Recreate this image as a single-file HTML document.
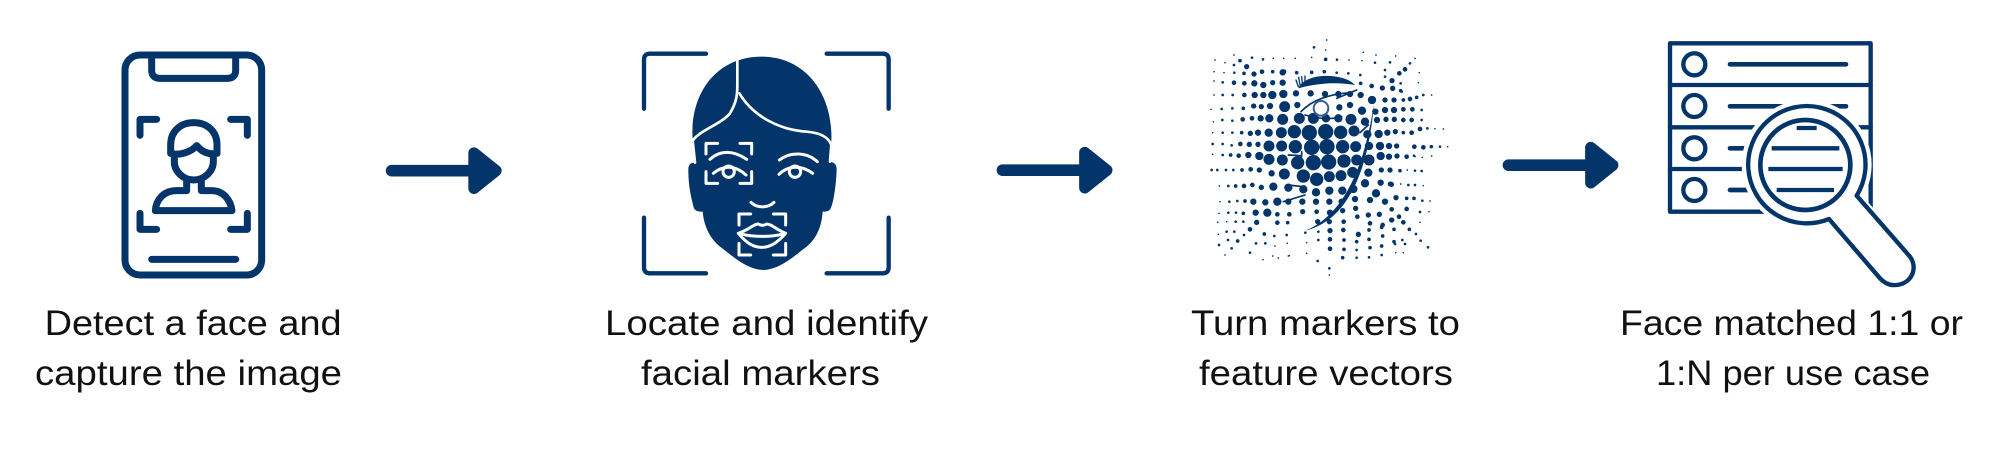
<!DOCTYPE html>
<html>
<head>
<meta charset="utf-8">
<style>
html,body{margin:0;padding:0;background:#fff;width:2000px;height:458px;overflow:hidden}
svg{display:block}
text{font-family:"Liberation Sans",sans-serif;font-size:35px;fill:#111}
</style>
</head>
<body>
<svg width="2000" height="458" viewBox="0 0 2000 458" xmlns="http://www.w3.org/2000/svg">
<rect width="2000" height="458" fill="#fff"/>
<!-- Phone -->
<g transform="translate(80,30) scale(0.33333)" fill="none" stroke="#03356b" stroke-width="21" stroke-linecap="round" stroke-linejoin="round">
<rect x="135" y="75" width="410" height="660" rx="45"/>
<path d="M215 75V120Q215 145 240 145H442Q467 145 467 120V75"/>
<path d="M215 688H467"/>
<path d="M230 268H180V316M452 268H502V316M180 550V598H230M502 550V598H452"/>
<path d="M272 370V345C272 300 305 278 341 278C377 278 411 300 411 345V370C385 375 365 365 350 347C335 365 300 378 272 370Z"/>
<path d="M283 375V395C283 425 310 450 341 450C372 450 400 425 400 395V375"/>
<path d="M320 450V482H290C250 482 228 510 226 542H456C452 510 430 482 395 482H364V450"/>
</g>
<!-- Arrows -->
<g transform="translate(80,30) scale(0.33333)" fill="#03356b" stroke="#03356b" stroke-linecap="round" stroke-linejoin="round">
<path d="M935 422H1180" stroke-width="35" fill="none"/>
<path d="M1182 369L1248 422L1182 475Z" stroke-width="34"/>
</g>
<g transform="translate(690.8,29.5) scale(0.33333)" fill="#03356b" stroke="#03356b" stroke-linecap="round" stroke-linejoin="round">
<path d="M935 422H1180" stroke-width="35" fill="none"/>
<path d="M1182 369L1248 422L1182 475Z" stroke-width="34"/>
</g>
<g transform="translate(1196.8,24.5) scale(0.33333)" fill="#03356b" stroke="#03356b" stroke-linecap="round" stroke-linejoin="round">
<path d="M935 422H1180" stroke-width="35" fill="none"/>
<path d="M1182 369L1248 422L1182 475Z" stroke-width="34"/>
</g>
<!-- Face -->
<g transform="translate(620,30) scale(0.33333)">
<g fill="none" stroke="#03356b" stroke-width="13" stroke-linecap="round">
<path d="M258 71H90Q72 71 72 89V236M620 71H788Q806 71 806 89V236M72 563V712Q72 730 90 730H258M806 563V712Q806 730 788 730H620"/>
</g>
<path fill="#03356b" d="M218 330C208 190 290 80 425 80C555 80 640 190 634 335L630 395C645 398 650 405 650 420C648 470 640 520 632 535C628 545 615 545 608 545C605 590 590 625 560 650C520 680 480 718 430 720C380 718 340 680 300 650C270 625 252 590 248 545C240 545 228 545 222 535C215 510 205 470 205 420C205 405 210 398 225 398Z"/>
<g fill="none" stroke="#fff" stroke-width="8" stroke-linecap="round" stroke-linejoin="round">
<path d="M352 88V165C352 195 350 215 330 250C300 285 240 300 218 332L225 398"/>
<path d="M358 190C400 260 480 300 560 305C600 308 625 320 634 345L630 395"/>
<g stroke-width="9">
<path d="M258 372V340H293M395 372V340H360M258 425V460H293M395 425V460H360"/>
<path d="M270 388C300 360 340 360 380 388M280 430C310 405 345 405 378 435"/>
<circle cx="326" cy="425" r="17"/>
<path d="M478 390C510 365 560 365 592 395M477 433C505 405 545 405 578 430"/>
<circle cx="525" cy="425" r="17"/>
<path d="M393 517C410 535 445 535 462 517"/>
<path d="M357 585V552H392M497 585V552H460M357 640V675H392M497 640V675H460"/>
<path d="M355 610C385 600 405 580 415 582Q427 590 440 582C455 582 470 600 497 610C470 640 450 652 425 652C400 652 380 640 355 610Z"/>
<path d="M360 611C400 622 455 622 492 611"/>
</g>
</g>
</g>
<!-- Halftone -->
<g transform="translate(1190,20) scale(0.33333)" fill="none" stroke="#03356b" stroke-linecap="round">
<path stroke-width="5" d="M410 60h0M407 90h0M520 97h0M132 105h0M558 105h0M250 115h0M281 115h0M316 115h0M365 112h0M477 120h0M516 122h0M617 108h0M75 120h0M105 128h0M675 115h0M72 155h0M102 158h0M688 158h0M72 183h0M685 188h0M72 225h0M725 225h0M63 268h0M70 305h0M68 338h0M760 327h0M735 326h0M773 380h0M68 403h0M675 410h0M697 412h0M725 408h0M88 498h0M700 497h0M90 545h0M720 543h0M87 580h0M717 575h0M83 607h0M110 605h0M690 607h0M85 643h0M255 678h0M292 670h0M350 668h0M105 705h0M248 708h0M295 708h0M350 700h0M219 719h0M265 714h0M298 707h0M617 698h0M640 698h0M418 765h0M652 450h0M632 492h0"/>
<path stroke-width="8" d="M372 82h0M186 113h0M219 118h0M441 119h0M555 128h0M132 135h0M585 150h0M600 127h0M660 130h0M133 158h0M440 158h0M475 160h0M511 165h0M585 170h0M98 187h0M632 190h0M98 225h0M128 225h0M635 215h0M700 225h0M95 267h0M127 265h0M695 270h0M97 300h0M127 302h0M695 300h0M98 338h0M127 338h0M712 325h0M68 372h0M98 372h0M125 376h0M750 380h0M98 405h0M672 407h0M65 450h0M82 450h0M108 450h0M130 450h0M675 452h0M695 453h0M115 498h0M655 495h0M675 495h0M118 545h0M142 543h0M697 542h0M115 578h0M138 578h0M690 576h0M137 605h0M160 605h0M110 635h0M133 635h0M162 645h0M290 645h0M346 638h0M385 635h0M253 648h0M678 642h0M87 675h0M114 660h0M198 670h0M226 670h0M385 660h0M692 662h0M637 660h0M125 685h0M500 690h0M645 672h0M615 672h0M714 682h0M180 698h0M383 723h0M500 713h0M537 712h0M575 705h0M418 745h0"/>
<path stroke-width="11" d="M407 118h0M150 122h0M162 160h0M248 155h0M320 158h0M365 157h0M403 155h0M122 405h0M640 240h0M160 265h0M680 232h0M155 338h0M724 380h0M630 452h0M137 498h0M165 543h0M160 580h0M223 642h0M293 608h0M672 535h0M650 535h0M512 190h0M632 212h0M658 628h0M612 628h0M575 622h0M537 630h0M578 648h0M537 658h0M500 665h0M462 660h0M458 713h0M462 688h0M540 683h0M575 678h0M612 665h0M143 663h0M156 450h0M640 338h0"/>
<path stroke-width="14" d="M216 155h0M628 160h0M645 148h0M132 188h0M163 190h0M545 198h0M163 225h0M158 298h0M186 295h0M640 300h0M665 300h0M665 338h0M690 327h0M151 372h0M700 382h0M673 380h0M146 407h0M182 448h0M162 498h0M187 495h0M262 608h0M650 567h0M627 590h0M605 568h0M298 583h0M262 583h0M180 628h0M420 658h0M461 605h0M502 590h0M540 610h0M578 615h0M460 630h0M380 575h0M640 607h0M420 686h0M640 268h0M667 268h0M660 237h0M282 155h0M600 492h0M650 410h0"/>
<path stroke-width="16" d="M170 140h0M192 162h0M248 188h0M577 204h0M606 182h0M608 205h0M612 240h0M191 258h0M214 260h0M585 240h0M588 298h0M613 298h0M181 340h0M616 335h0M178 373h0M204 373h0M620 378h0M621 408h0M600 450h0M574 450h0M208 450h0M214 502h0M604 493h0M200 607h0M338 575h0M497 565h0M535 585h0M568 583h0M605 600h0M618 533h0M383 605h0M418 605h0M420 632h0M505 643h0M458 572h0"/>
<path stroke-width="19" d="M193 190h0M220 195h0M278 157h0M278 188h0M318 220h0M194 225h0M220 225h0M240 258h0M212 295h0M204 338h0M592 338h0M597 378h0M597 410h0M245 460h0M175 405h0M190 545h0M226 547h0M197 578h0M420 578h0M295 545h0M337 545h0M378 545h0M418 545h0M455 545h0M495 537h0M540 540h0M572 488h0M585 545h0M612 270h0M585 270h0M556 275h0M561 300h0M512 225h0M480 222h0M445 222h0M405 222h0M362 220h0M322 255h0M448 262h0M480 255h0"/>
<path stroke-width="25" d="M247 225h0M238 295h0M236 338h0M232 578h0M208 408h0M250 500h0M262 545h0M295 503h0M340 508h0M378 517h0M418 512h0M457 512h0M490 507h0M525 490h0M558 520h0M566 342h0M570 378h0M572 408h0M532 343h0M516 272h0M546 240h0M537 378h0M280 222h0M525 305h0M445 295h0M408 295h0M535 458h0"/>
<path stroke-width="33" d="M284 260h0M278 298h0M274 338h0M237 378h0M237 418h0M275 378h0M277 420h0M283 462h0M328 295h0M370 295h0M483 298h0M492 333h0M497 380h0M500 420h0M537 420h0M488 457h0M453 467h0M418 470h0"/>
<path stroke-width="40" d="M313 335h0M316 380h0M323 428h0M340 468h0M380 478h0M452 337h0M458 380h0M462 423h0"/>
<path stroke-width="46" d="M358 338h0M407 335h0M365 382h0M411 380h0M370 428h0M416 426h0"/>
<path stroke="none" fill="#03356b" d="M325 205C335 178 380 165 420 168C455 170 482 180 495 195C465 190 430 188 395 192C365 195 342 200 325 205Z"/>
<path stroke-width="4" d="M325 200L318 180M330 195L326 172M337 190L335 170M345 185L345 168"/>
<path stroke-width="5" d="M333 275C365 240 420 222 480 218M440 235L500 210M345 285C380 295 420 300 455 290"/>
<circle cx="393" cy="265" r="22" stroke-width="6" stroke="#3a5f8a"/>
<path stroke="none" fill="#03356b" d="M346 632C430 598 515 500 552 250C532 490 455 605 346 632Z"/>
<path stroke-width="5" d="M510 338L535 315M295 405L335 407M335 395V410M280 545L345 525M295 495L340 500"/>
</g>
<!-- Database + magnifier -->
<g transform="translate(1640,30) scale(0.33333)" fill="none" stroke="#03356b" stroke-linecap="round" stroke-linejoin="round">
<rect x="90" y="40" width="602" height="505" stroke-width="13"/>
<path stroke-width="13" d="M90 165H692M90 292H692M90 417H692"/>
<g stroke-width="13">
<circle cx="163" cy="103" r="33"/><circle cx="163" cy="228" r="33"/><circle cx="163" cy="355" r="33"/><circle cx="163" cy="480" r="33"/>
</g>
<path stroke-width="14" d="M270 103H618M270 229H618M270 355H618M270 480H618"/>
<circle cx="500" cy="404" r="195" fill="#fff" stroke="none"/>
<path d="M650 497L810 680C835 715 815 760 770 765C745 768 730 755 720 745L567 567Z" fill="#fff" stroke="#fff" stroke-width="26"/>
<path d="M650 497L810 680C835 715 815 760 770 765C745 768 730 755 720 745L567 567" fill="#fff" stroke-width="13"/>
<path d="M650 497A176 176 0 1 0 567 567" stroke-width="13"/>
<circle cx="496" cy="405" r="135" stroke-width="14"/>
<path stroke-width="13" stroke-linecap="butt" d="M395 355H598M385 417H608M410 480H582M470 294H530"/>
</g>
<!-- Labels -->
<text x="44.6" y="335" textLength="297" lengthAdjust="spacingAndGlyphs">Detect a face and</text>
<text x="35" y="385" textLength="307" lengthAdjust="spacingAndGlyphs">capture the image</text>
<text x="605" y="335" textLength="323" lengthAdjust="spacingAndGlyphs">Locate and identify</text>
<text x="641" y="385" textLength="239" lengthAdjust="spacingAndGlyphs">facial markers</text>
<text x="1191" y="335" textLength="269" lengthAdjust="spacingAndGlyphs">Turn markers to</text>
<text x="1199" y="385" textLength="254" lengthAdjust="spacingAndGlyphs">feature vectors</text>
<text x="1620" y="335" textLength="343" lengthAdjust="spacingAndGlyphs">Face matched 1:1 or</text>
<text x="1656" y="385" textLength="274" lengthAdjust="spacingAndGlyphs">1:N per use case</text>
</svg>
</body>
</html>
